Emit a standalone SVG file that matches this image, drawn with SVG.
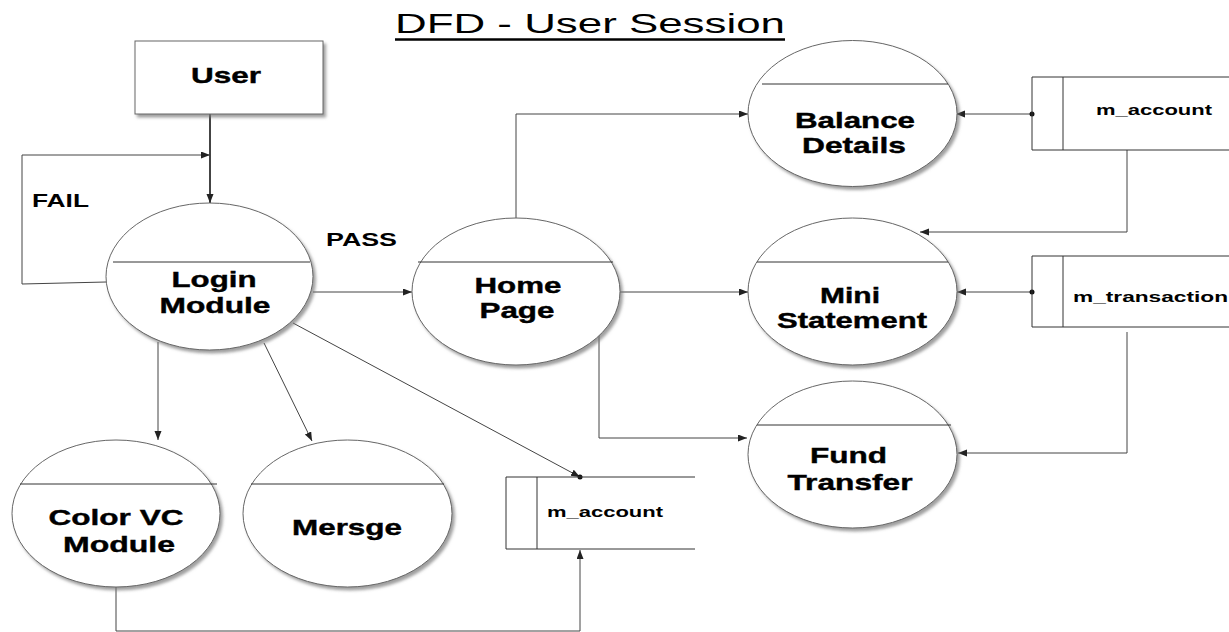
<svg xmlns="http://www.w3.org/2000/svg" width="1229" height="632" viewBox="0 0 1229 632">
<defs>
<filter id="sh" x="-10%" y="-10%" width="125%" height="130%">
<feDropShadow dx="2.5" dy="3" stdDeviation="1.5" flood-color="#777" flood-opacity="0.7"/>
</filter>
<marker id="arr" markerUnits="userSpaceOnUse" markerWidth="10" markerHeight="8" refX="9" refY="3.5" orient="auto">
<path d="M0,0 L9,3.5 L0,7 z" fill="#222"/>
</marker>
<marker id="dot" markerUnits="userSpaceOnUse" markerWidth="6" markerHeight="6" refX="3" refY="3" orient="auto">
<circle cx="3" cy="3" r="2.5" fill="#111"/>
</marker>
</defs>
<style>
.proc{fill:#fff;stroke:#666;stroke-width:1;filter:url(#sh)}
.div{stroke:#333;stroke-width:1}
.lbl{font-family:"Liberation Sans",Arial,sans-serif;font-weight:bold;font-size:22px;fill:#000;stroke:#000;stroke-width:0.4;text-anchor:middle}
.store{fill:none;stroke:#333;stroke-width:1}
.st{font-family:"Liberation Sans",Arial,sans-serif;font-weight:bold;font-size:15px;fill:#000}
.flow{fill:none;stroke:#444;stroke-width:1;marker-end:url(#arr)}
.note{font-family:"Liberation Sans",Arial,sans-serif;font-weight:bold;font-size:18px;fill:#000}
</style>
<rect width="1229" height="632" fill="#fff"/>
<g id="title">
<text x="395" y="33" font-family="'Liberation Sans',Arial,sans-serif" font-size="28" textLength="390" lengthAdjust="spacingAndGlyphs">DFD - User Session</text>
<line x1="395" y1="39.5" x2="785" y2="39.5" stroke="#000" stroke-width="2.5"/>
</g>
<g id="connectors">
<path d="M210,114 V203" fill="none" stroke="#444" stroke-width="2" marker-end="url(#arr)"/>
<path class="flow" d="M106,282 L22,284 V155 H210"/>
<path class="flow" d="M313,292 H412"/>
<path class="flow" d="M516,218 V114 H748"/>
<path class="flow" d="M620,292 H748"/>
<path class="flow" d="M599,335 V438 H747"/>
<path class="flow" d="M1032,114 H956" marker-start="url(#dot)"/>
<path class="flow" d="M1127,150 V232 H920"/>
<path class="flow" d="M1032,292 H957" marker-start="url(#dot)"/>
<path class="flow" d="M1127,332 V453 H958"/>
<path class="flow" d="M158,342 V440"/>
<path class="flow" d="M264,343 L312,441"/>
<path class="flow" d="M293,323 L580,477"/>
<circle cx="580" cy="477" r="2.5" fill="#111"/>
<path class="flow" d="M116,587 V631 H580 V550"/>
<text class="note" x="32" y="207" textLength="57" lengthAdjust="spacingAndGlyphs">FAIL</text>
<text class="note" x="326" y="246" textLength="71" lengthAdjust="spacingAndGlyphs">PASS</text>
</g>
<g id="user">
<rect x="135" y="41" width="188" height="73" fill="#fff" stroke="#666" stroke-width="1" filter="url(#sh)"/>
<text class="lbl" x="226" y="83" textLength="70" lengthAdjust="spacingAndGlyphs">User</text>
</g>
<g id="login">
<ellipse class="proc" cx="209.5" cy="276.5" rx="103.5" ry="73.5"/>
<line class="div" x1="113" y1="262" x2="310" y2="262"/>
<text class="lbl" x="214" y="287" textLength="85" lengthAdjust="spacingAndGlyphs">Login</text>
<text class="lbl" x="215" y="313" textLength="111" lengthAdjust="spacingAndGlyphs">Module</text>
</g>
<g id="home">
<ellipse class="proc" cx="516" cy="291.5" rx="104" ry="73.5"/>
<line class="div" x1="418" y1="262" x2="613" y2="262"/>
<text class="lbl" x="518" y="293" textLength="87" lengthAdjust="spacingAndGlyphs">Home</text>
<text class="lbl" x="517" y="318" textLength="75" lengthAdjust="spacingAndGlyphs">Page</text>
</g>
<g id="balance">
<ellipse class="proc" cx="852.5" cy="113.5" rx="104.5" ry="73"/>
<line class="div" x1="762" y1="84" x2="948" y2="84"/>
<text class="lbl" x="855" y="128" textLength="120" lengthAdjust="spacingAndGlyphs">Balance</text>
<text class="lbl" x="854" y="153" textLength="104" lengthAdjust="spacingAndGlyphs">Details</text>
</g>
<g id="mini">
<ellipse class="proc" cx="852.5" cy="291.5" rx="104.5" ry="73.5"/>
<line class="div" x1="757" y1="262" x2="948" y2="262"/>
<text class="lbl" x="850" y="303" textLength="60" lengthAdjust="spacingAndGlyphs">Mini</text>
<text class="lbl" x="852" y="328" textLength="150" lengthAdjust="spacingAndGlyphs">Statement</text>
</g>
<g id="fund">
<ellipse class="proc" cx="852.5" cy="454.5" rx="104.5" ry="73.5"/>
<line class="div" x1="757" y1="425" x2="951" y2="425"/>
<text class="lbl" x="848.5" y="463" textLength="77" lengthAdjust="spacingAndGlyphs">Fund</text>
<text class="lbl" x="850" y="490" textLength="125" lengthAdjust="spacingAndGlyphs">Transfer</text>
</g>
<g id="colorvc">
<ellipse class="proc" cx="116" cy="513.5" rx="104" ry="73.5"/>
<line class="div" x1="20" y1="484" x2="217" y2="484"/>
<text class="lbl" x="116" y="525" textLength="135" lengthAdjust="spacingAndGlyphs">Color VC</text>
<text class="lbl" x="119" y="552" textLength="112" lengthAdjust="spacingAndGlyphs">Module</text>
</g>
<g id="mersge">
<ellipse class="proc" cx="347.5" cy="513.5" rx="104.5" ry="73.5"/>
<line class="div" x1="251" y1="484" x2="444" y2="484"/>
<text class="lbl" x="347" y="535" textLength="110" lengthAdjust="spacingAndGlyphs">Mersge</text>
</g>
<g id="store-account-top">
<path class="store" d="M1229,77 H1032 V150 H1229 M1063,77 V150"/>
<text class="st" x="1096" y="115" textLength="116" lengthAdjust="spacingAndGlyphs">m_account</text>
</g>
<g id="store-transaction">
<path class="store" d="M1229,256 H1032 V327 H1229 M1063,256 V327"/>
<text class="st" x="1073" y="302" textLength="155" lengthAdjust="spacingAndGlyphs">m_transaction</text>
</g>
<g id="store-account-bottom">
<path class="store" d="M695,477 H506 V549 H695 M537,477 V549"/>
<text class="st" x="547" y="517" textLength="116" lengthAdjust="spacingAndGlyphs">m_account</text>
</g>
</svg>
